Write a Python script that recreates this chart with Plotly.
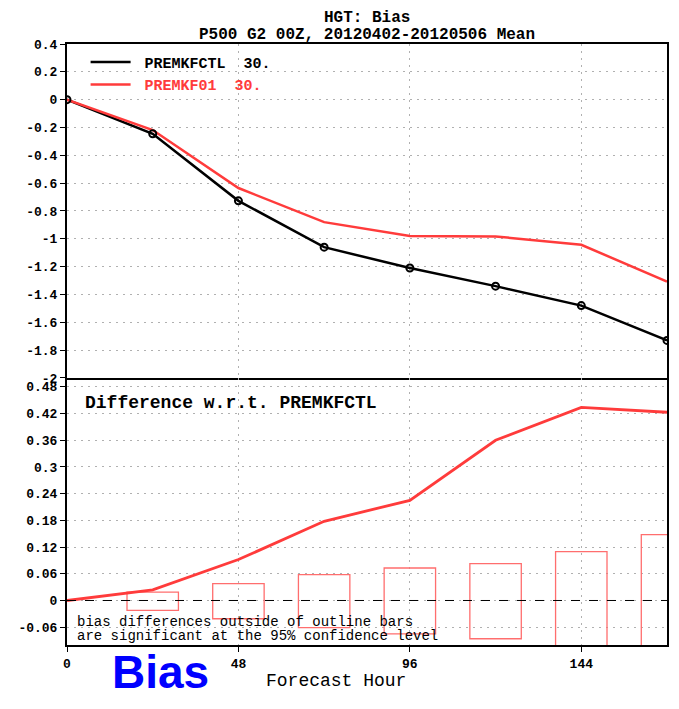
import plotly.graph_objects as go

# ---- data ----
hours = [0, 24, 48, 72, 96, 120, 144, 168]
ctl_bias = [0.0, -0.245, -0.727, -1.06, -1.21, -1.34, -1.48, -1.73]
f01_bias = [0.0, -0.218, -0.635, -0.88, -0.98, -0.983, -1.043, -1.307]
diff_bias = [0.0, 0.024, 0.092, 0.178, 0.225, 0.36, 0.434, 0.423]
bar_hours = [24, 48, 72, 96, 120, 144, 168]
ci_upper = [0.019, 0.038, 0.058, 0.073, 0.083, 0.110, 0.148]
ci_lower = [-0.022, -0.041, -0.061, -0.075, -0.086, -0.110, -0.148]

top_ticks = [0.4, 0.2, 0, -0.2, -0.4, -0.6, -0.8, -1, -1.2, -1.4, -1.6, -1.8, -2]
top_labels = ["0.4", "0.2", "0", "-0.2", "-0.4", "-0.6", "-0.8", "-1", "-1.2", "-1.4", "-1.6", "-1.8", "-2"]
bot_ticks = [-0.06, 0, 0.06, 0.12, 0.18, 0.24, 0.3, 0.36, 0.42, 0.48]
bot_labels = ["-0.06", "0", "0.06", "0.12", "0.18", "0.24", "0.3", "0.36", "0.42", "0.48"]
x_ticks = [0, 48, 96, 144]
x_labels = ["0", "48", "96", "144"]

BLACK = "#000000"
RED = "#ff3b3b"
BAR = "rgb(255,110,110)"
MONO = "Liberation Mono"

fig = go.Figure()

# top panel
fig.add_trace(go.Scatter(x=hours, y=ctl_bias, mode="lines", xaxis="x", yaxis="y",
                         line=dict(color=BLACK, width=2.5),
                         name="\u00a0PREMKFCTL\u00a0\u00a030."))
fig.add_trace(go.Scatter(x=hours, y=f01_bias, mode="lines", xaxis="x", yaxis="y",
                         line=dict(color=RED, width=2.5),
                         name="<span style='color:%s'>\u00a0PREMKF01\u00a0\u00a030.</span>" % RED))
fig.add_trace(go.Scatter(x=hours, y=ctl_bias, mode="markers", xaxis="x", yaxis="y",
                         marker=dict(symbol="circle-open", size=7, color=BLACK, line=dict(width=2)),
                         showlegend=False))

# bottom panel
fig.add_trace(go.Bar(x=bar_hours, y=[u - l for u, l in zip(ci_upper, ci_lower)], base=ci_lower,
                     width=14.4, xaxis="x2", yaxis="y2",
                     marker=dict(color="rgba(0,0,0,0)", line=dict(color=BAR, width=1.3)),
                     showlegend=False))
fig.add_trace(go.Scatter(x=hours, y=diff_bias, mode="lines", xaxis="x2", yaxis="y2",
                         line=dict(color=RED, width=2.8), showlegend=False))

grid = dict(showgrid=True, gridcolor="#b0b0b0", griddash="2px,5px", gridwidth=1)
frame = dict(showline=True, linecolor=BLACK, linewidth=2, zeroline=False)
tickfont = dict(family=MONO, size=13, color=BLACK, weight="bold")

split = 0.4443
fig.update_layout(
    width=679, height=709,
    margin=dict(l=67, r=10, t=44, b=64),
    plot_bgcolor="white", paper_bgcolor="white",
    barmode="overlay",
    xaxis=dict(domain=[0, 1], anchor="y", range=[0, 168], tickvals=x_ticks,
               showticklabels=False, ticks="", mirror=True, **grid, **frame),
    yaxis=dict(domain=[split, 1], anchor="x", range=[-2, 0.4], tickvals=top_ticks,
               ticktext=top_labels, ticks="outside", ticklen=5, tickcolor=BLACK,
               tickfont=tickfont, mirror=True, **grid, **frame),
    xaxis2=dict(domain=[0, 1], anchor="y2", range=[0, 168], tickvals=x_ticks,
                ticktext=x_labels, ticks="outside", ticklen=5, tickcolor=BLACK,
                tickfont=tickfont, mirror=False, **grid, **frame),
    yaxis2=dict(domain=[0, split], anchor="x2", range=[-0.1, 0.5], tickvals=bot_ticks,
                ticktext=bot_labels, ticks="outside", ticklen=5, tickcolor=BLACK,
                tickfont=tickfont, mirror=True, **grid, **frame),
    legend=dict(x=0.031, y=0.997, xanchor="left", yanchor="top", bgcolor="rgba(0,0,0,0)",
                font=dict(family=MONO, size=15, color=BLACK, weight="bold"),
                itemwidth=40, tracegroupgap=0),
    showlegend=True,
)

fig.add_shape(type="line", xref="x2 domain", x0=0, x1=1, yref="y2", y0=0, y1=0,
              line=dict(color=BLACK, width=1, dash="dash"))

ann = []
ann.append(dict(text="HGT: Bias", x=0.5, y=1 + 26 / 601, xref="paper", yref="paper",
                xanchor="center", yanchor="middle", showarrow=False,
                font=dict(family=MONO, size=16, color=BLACK, weight="bold")))
ann.append(dict(text="P500 G2 00Z, 20120402-20120506 Mean", x=0.5, y=1 + 9 / 601,
                xref="paper", yref="paper", xanchor="center", yanchor="middle", showarrow=False,
                font=dict(family=MONO, size=16, color=BLACK, weight="bold")))
ann.append(dict(text="Difference w.r.t. PREMKFCTL", x=16 / 602, y=242 / 601,
                xref="paper", yref="paper", xanchor="left", yanchor="middle", showarrow=False,
                font=dict(family=MONO, size=18, color=BLACK, weight="bold")))
ann.append(dict(text="bias differences outside of outline bars", x=8 / 602, y=23 / 601,
                xref="paper", yref="paper", xanchor="left", yanchor="middle", showarrow=False,
                font=dict(family=MONO, size=14, color=BLACK)))
ann.append(dict(text="are significant at the 95% confidence level", x=8 / 602, y=9 / 601,
                xref="paper", yref="paper", xanchor="left", yanchor="middle", showarrow=False,
                font=dict(family=MONO, size=14, color=BLACK)))
ann.append(dict(text="Forecast Hour", x=270 / 602, y=-36 / 601,
                xref="paper", yref="paper", xanchor="center", yanchor="middle", showarrow=False,
                font=dict(family=MONO, size=18, color=BLACK)))
ann.append(dict(text="Bias", x=94 / 602, y=-27 / 601,
                xref="paper", yref="paper", xanchor="center", yanchor="middle", showarrow=False,
                font=dict(family="Liberation Sans", size=46, color="#0000ff", weight="bold")))
fig.update_layout(annotations=ann)

fig.write_html("out.html")
